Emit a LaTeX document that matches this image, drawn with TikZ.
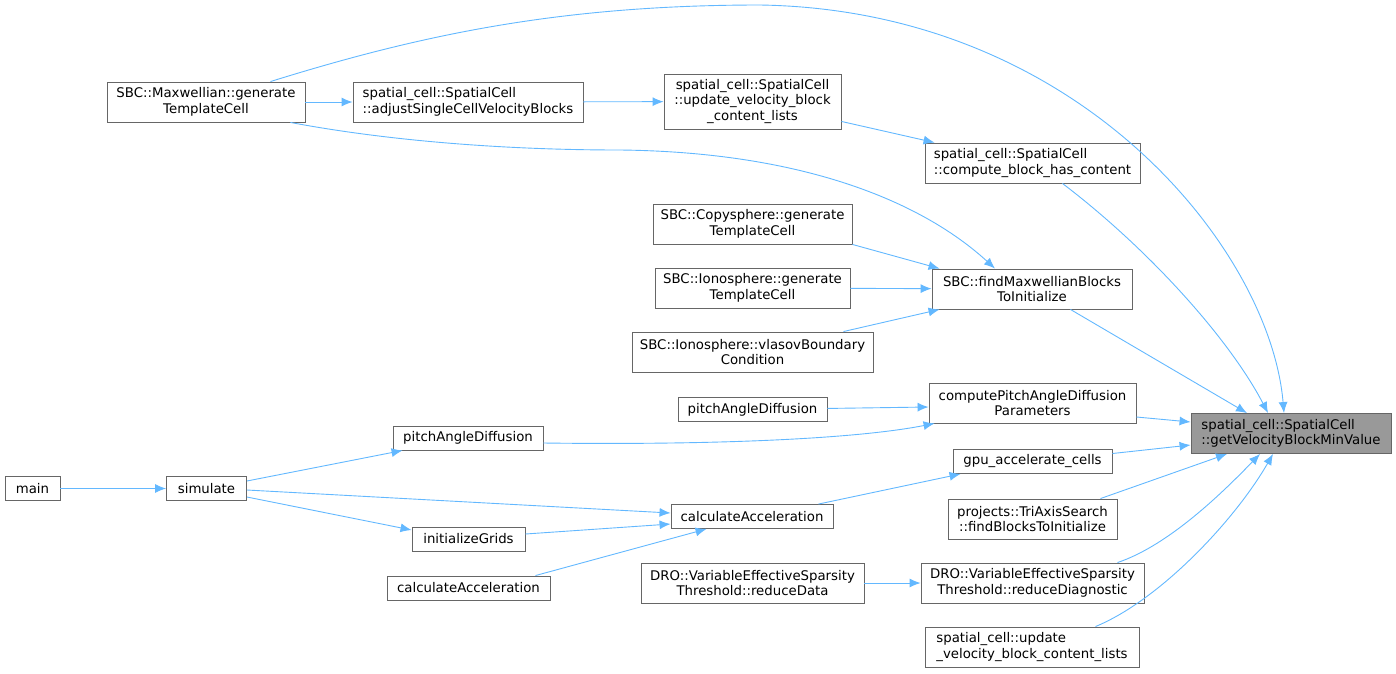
\documentclass[tikz,border=0pt]{standalone}
\usepackage{fontspec}
\setmainfont{DejaVu Sans}
\usetikzlibrary{arrows.meta}
\definecolor{edgeblue}{HTML}{63B8FF}
\definecolor{boxgray}{HTML}{666666}
\definecolor{hitgray}{HTML}{999999}
\tikzset{
  fn/.style={draw=boxgray, fill=white, line width=0.9pt, inner sep=0pt,
    font=\fontsize{13.3}{15.5}\selectfont, align=center, minimum height=24pt},
  two/.style={minimum height=40pt},
  call/.style={draw=edgeblue, line width=0.9pt, -{Latex[length=11pt,width=9pt]}}
}
\begin{document}
\begin{tikzpicture}[x=1pt,y=-1pt]
  \useasboundingbox (0,0) rectangle (1396,673);
  % right column
  \node[fn,two,fill=hitgray,align=left,minimum width=200pt] (target) at (1291,433.5)
    {spatial\_cell::SpatialCell\\::getVelocityBlockMinValue};
  \node[fn,two,align=left,minimum width=215pt] (compute) at (1032.5,163)
    {spatial\_cell::SpatialCell\\::compute\_block\_has\_content};
  \node[fn,two,minimum width=200pt] (findmax) at (1032,289)
    {SBC::findMaxwellianBlocks\\ToInitialize};
  \node[fn,two,minimum width=207pt] (pitchparams) at (1032.5,403)
    {computePitchAngleDiffusion\\Parameters};
  \node[fn,minimum width=159pt] (gpucells) at (1032.5,461.5) {gpu\_accelerate\_cells};
  \node[fn,two,minimum width=169pt] (triaxis) at (1032.5,519)
    {projects::TriAxisSearch\\::findBlocksToInitialize};
  \node[fn,two,minimum width=223pt] (reducediag) at (1032.5,583)
    {DRO::VariableEffectiveSparsity\\Threshold::reduceDiagnostic};
  \node[fn,two,align=left,minimum width=214pt] (updlists) at (1032,647)
    {spatial\_cell::update\\\_velocity\_block\_content\_lists};
  % middle column
  \node[fn,minimum width=177pt,minimum height=55pt] (updvel) at (752.5,101.5)
    {spatial\_cell::SpatialCell\\::update\_velocity\_block\\\_content\_lists};
  \node[fn,two,minimum width=199pt] (copysphere) at (752.5,224)
    {SBC::Copysphere::generate\\TemplateCell};
  \node[fn,two,minimum width=195pt] (ionogen) at (752.5,288)
    {SBC::Ionosphere::generate\\TemplateCell};
  \node[fn,two,minimum width=241pt] (vlasov) at (752.5,352)
    {SBC::Ionosphere::vlasovBoundary\\Condition};
  \node[fn,minimum width=149pt] (pitchB) at (752.5,409.5) {pitchAngleDiffusion};
  \node[fn,minimum width=162pt] (calcB) at (752,516.5) {calculateAcceleration};
  \node[fn,two,minimum width=223pt] (reducedata) at (752.5,583)
    {DRO::VariableEffectiveSparsity\\Threshold::reduceData};
  % left columns
  \node[fn,two,align=left,minimum width=230pt] (adjust) at (468,102)
    {spatial\_cell::SpatialCell\\::adjustSingleCellVelocityBlocks};
  \node[fn,minimum width=150pt] (pitchA) at (468,438) {pitchAngleDiffusion};
  \node[fn,minimum width=113pt] (initgrids) at (468.5,539) {initializeGrids};
  \node[fn,minimum width=163pt] (calcA) at (468.5,588) {calculateAcceleration};
  \node[fn,two,minimum width=198pt] (maxwell) at (206,102)
    {SBC::Maxwellian::generate\\TemplateCell};
  \node[fn,minimum width=80pt] (simulate) at (206.5,488.5) {simulate};
  \node[fn,minimum width=55pt] (main) at (32.5,488.5) {main};

  % calls into the target
  \draw[call] ([xshift=-35]maxwell.north east) .. controls (420,35) and (560,5) .. (760,5)
    .. controls (1080,10) and (1270,250) .. ([xshift=-7]target.north);
  \draw[call] ([xshift=-78]compute.south east) .. controls (1150,250) and (1230,340) .. ([xshift=-23]target.north);
  \draw[call] ([xshift=-62]findmax.south east) -- ([xshift=-44]target.north);
  \draw[call] ([yshift=-14]pitchparams.east) -- ([yshift=11.5]target.west);
  \draw[call] ([yshift=8]gpucells.east) -- ([yshift=-11.5]target.west);
  \draw[call] ([xshift=-17]triaxis.north east) -- ([xshift=-64]target.south);
  \draw[call] ([xshift=-27]reducediag.north east) .. controls (1170,545) and (1225,490) .. ([xshift=-31]target.south);
  \draw[call] ([xshift=-44]updlists.north east) .. controls (1160,600) and (1235,520) .. ([xshift=-18]target.south);

  % second level
  \draw[call] (maxwell) -- (adjust);
  \draw[call] (adjust) -- (updvel);
  \draw[call] ([yshift=8]updvel.south east) -- ([xshift=10]compute.north west);
  \draw[call] ([xshift=-15]maxwell.south east) .. controls (400,143) and (520,150) .. (620,150)
    .. controls (800,152) and (920,200) .. ([xshift=-37]findmax.north);
  \draw[call] (copysphere.south east) -- ([xshift=8]findmax.north west);
  \draw[call] (ionogen) -- (findmax);
  \draw[call] ([xshift=-30]vlasov.north east) -- ([xshift=8]findmax.south west);
  \draw[call] (pitchB) -- ([yshift=-4]pitchparams.west);
  \draw[call] ([yshift=-5]pitchA.east) .. controls (700,445) and (850,440) .. ([xshift=6]pitchparams.south west);
  \draw[call] ([xshift=-15]calcB.north east) -- ([xshift=8]gpucells.south west);
  \draw[call] (reducedata) -- (reducediag);

  % callers of the accelerate step
  \draw[call] (main) -- (simulate);
  \draw[call] ([yshift=7.5]simulate.east) -- ([xshift=10]pitchA.south west);
  \draw[call] ([yshift=-1.5]simulate.east) -- ([yshift=3.5]calcB.west);
  \draw[call] ([yshift=-8.5]simulate.east) -- ([yshift=9]initgrids.west);
  \draw[call] ([yshift=5]initgrids.east) -- ([yshift=-7.5]calcB.west);
  \draw[call] ([xshift=-15]calcA.north east) -- ([xshift=36]calcB.south west);
\end{tikzpicture}
\end{document}
